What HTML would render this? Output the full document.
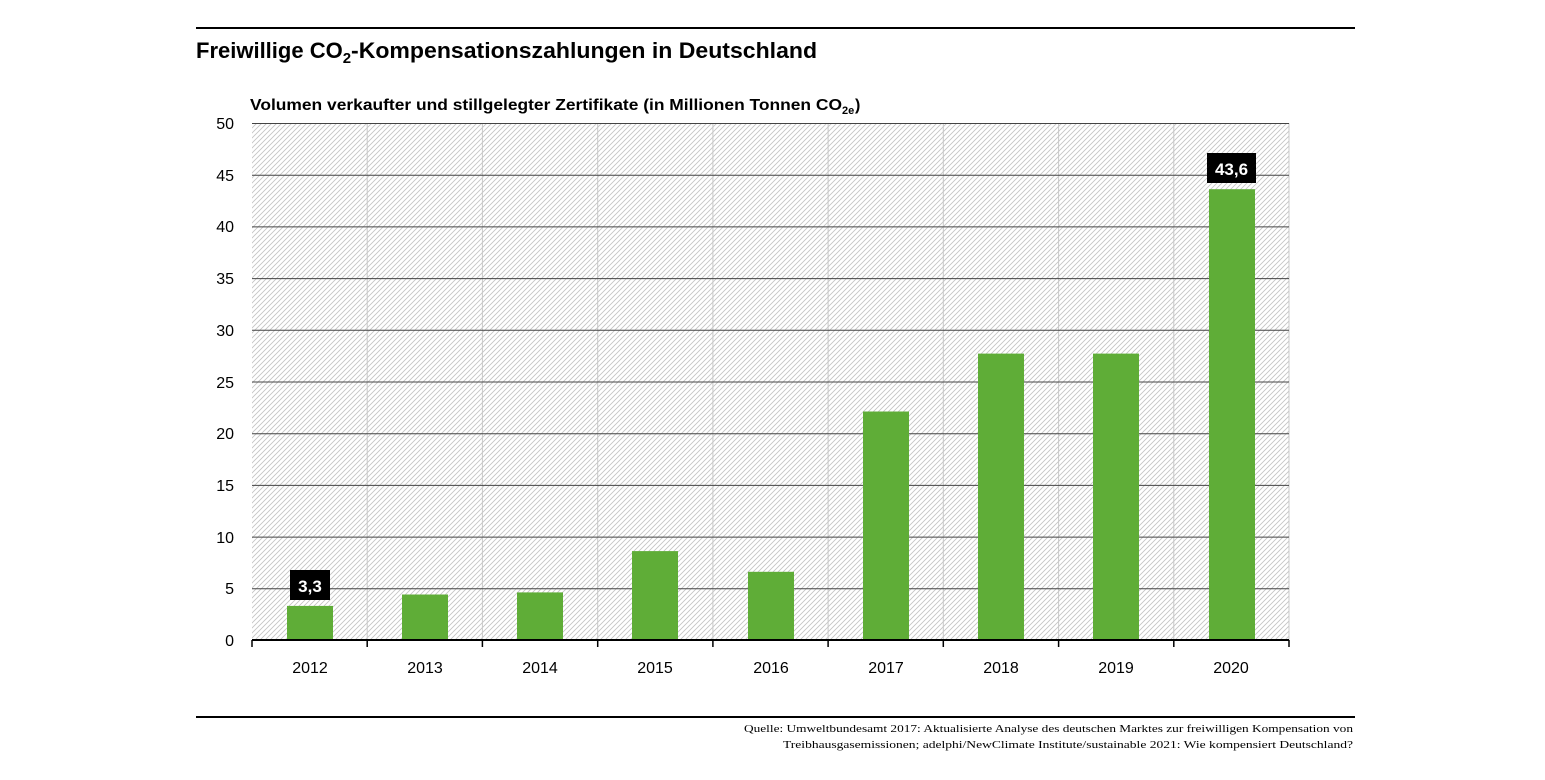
<!DOCTYPE html>
<html><head><meta charset="utf-8"><style>
body{margin:0;background:#fff;}
svg text{font-family:"Liberation Sans",sans-serif;}
</style></head><body>
<svg width="1545" height="775" viewBox="0 0 1545 775" xmlns="http://www.w3.org/2000/svg">
<defs>
<pattern id="h" width="5" height="5" patternUnits="userSpaceOnUse">
<path d="M-1,1 l2,-2 M0,5 l5,-5 M4,6 l2,-2" stroke="#c4c4c4" stroke-width="0.9"/>
</pattern>
</defs>
<line x1="196" y1="28" x2="1355" y2="28" stroke="#000" stroke-width="2"/>
<text x="196" y="58" font-size="22" font-weight="bold">Freiwillige CO<tspan font-size="15" dy="5">2</tspan><tspan dy="-5" textLength="466" lengthAdjust="spacingAndGlyphs">-Kompensationszahlungen in Deutschland</tspan></text>
<text x="250" y="110" font-size="16" font-weight="bold" textLength="592" lengthAdjust="spacingAndGlyphs">Volumen verkaufter und stillgelegter Zertifikate (in Millionen Tonnen CO</text>
<text x="842" y="114" font-size="11" font-weight="bold">2e</text>
<text x="855" y="110" font-size="16" font-weight="bold">)</text>
<rect x="252" y="123" width="1037" height="517" fill="url(#h)"/>
<g stroke="#c8c8c8" stroke-width="1">
<line x1="367.2" y1="123" x2="367.2" y2="640"/><line x1="482.4" y1="123" x2="482.4" y2="640"/>
<line x1="597.7" y1="123" x2="597.7" y2="640"/><line x1="712.9" y1="123" x2="712.9" y2="640"/>
<line x1="828.1" y1="123" x2="828.1" y2="640"/><line x1="943.3" y1="123" x2="943.3" y2="640"/>
<line x1="1058.6" y1="123" x2="1058.6" y2="640"/><line x1="1173.8" y1="123" x2="1173.8" y2="640"/>
<line x1="1289" y1="123" x2="1289" y2="640"/>
</g>
<g stroke="#444" stroke-width="1">
<line x1="252" y1="123.5" x2="1289" y2="123.5"/><line x1="252" y1="175.2" x2="1289" y2="175.2"/>
<line x1="252" y1="226.9" x2="1289" y2="226.9"/><line x1="252" y1="278.6" x2="1289" y2="278.6"/>
<line x1="252" y1="330.3" x2="1289" y2="330.3"/><line x1="252" y1="382" x2="1289" y2="382"/>
<line x1="252" y1="433.7" x2="1289" y2="433.7"/><line x1="252" y1="485.4" x2="1289" y2="485.4"/>
<line x1="252" y1="537.1" x2="1289" y2="537.1"/><line x1="252" y1="588.8" x2="1289" y2="588.8"/>
</g>
<g fill="#5fad37">
<rect x="287" y="605.9" width="46" height="34.1"/>
<rect x="402" y="594.5" width="46" height="45.5"/>
<rect x="517" y="592.4" width="46" height="47.6"/>
<rect x="632" y="551.1" width="46" height="88.9"/>
<rect x="748" y="571.8" width="46" height="68.2"/>
<rect x="863" y="411.5" width="46" height="228.5"/>
<rect x="978" y="353.6" width="46" height="286.4"/>
<rect x="1093" y="353.6" width="46" height="286.4"/>
<rect x="1209" y="189.2" width="46" height="450.8"/>
</g>
<line x1="252" y1="640" x2="1289" y2="640" stroke="#000" stroke-width="2"/>
<g stroke="#000" stroke-width="1.5">
<line x1="252" y1="640" x2="252" y2="647"/><line x1="367.2" y1="640" x2="367.2" y2="647"/>
<line x1="482.4" y1="640" x2="482.4" y2="647"/><line x1="597.7" y1="640" x2="597.7" y2="647"/>
<line x1="712.9" y1="640" x2="712.9" y2="647"/><line x1="828.1" y1="640" x2="828.1" y2="647"/>
<line x1="943.3" y1="640" x2="943.3" y2="647"/><line x1="1058.6" y1="640" x2="1058.6" y2="647"/>
<line x1="1173.8" y1="640" x2="1173.8" y2="647"/><line x1="1289" y1="640" x2="1289" y2="647"/>
</g>
<rect x="290" y="570" width="40" height="30" fill="#000"/>
<text x="310" y="592" font-size="17" font-weight="bold" fill="#fff" text-anchor="middle">3,3</text>
<rect x="1207" y="153" width="49" height="30" fill="#000"/>
<text x="1231.5" y="175" font-size="17" font-weight="bold" fill="#fff" text-anchor="middle">43,6</text>
<g font-size="16" text-anchor="end">
<text x="234" y="129">50</text><text x="234" y="181">45</text><text x="234" y="232">40</text>
<text x="234" y="284">35</text><text x="234" y="336">30</text><text x="234" y="388">25</text>
<text x="234" y="439">20</text><text x="234" y="491">15</text><text x="234" y="543">10</text>
<text x="234" y="594">5</text><text x="234" y="646">0</text>
</g>
<g font-size="16" text-anchor="middle">
<text x="310" y="673">2012</text><text x="425" y="673">2013</text><text x="540" y="673">2014</text>
<text x="655" y="673">2015</text><text x="771" y="673">2016</text><text x="886" y="673">2017</text>
<text x="1001" y="673">2018</text><text x="1116" y="673">2019</text><text x="1231" y="673">2020</text>
</g>
<line x1="196" y1="717" x2="1355" y2="717" stroke="#000" stroke-width="2"/>
<text x="744" y="732" font-size="11" style="font-family:'Liberation Serif',serif" textLength="609" lengthAdjust="spacingAndGlyphs">Quelle: Umweltbundesamt 2017: Aktualisierte Analyse des deutschen Marktes zur freiwilligen Kompensation von</text>
<text x="783" y="748" font-size="11" style="font-family:'Liberation Serif',serif" textLength="570" lengthAdjust="spacingAndGlyphs">Treibhausgasemissionen; adelphi/NewClimate Institute/sustainable 2021: Wie kompensiert Deutschland?</text>
</svg>
</body></html>
